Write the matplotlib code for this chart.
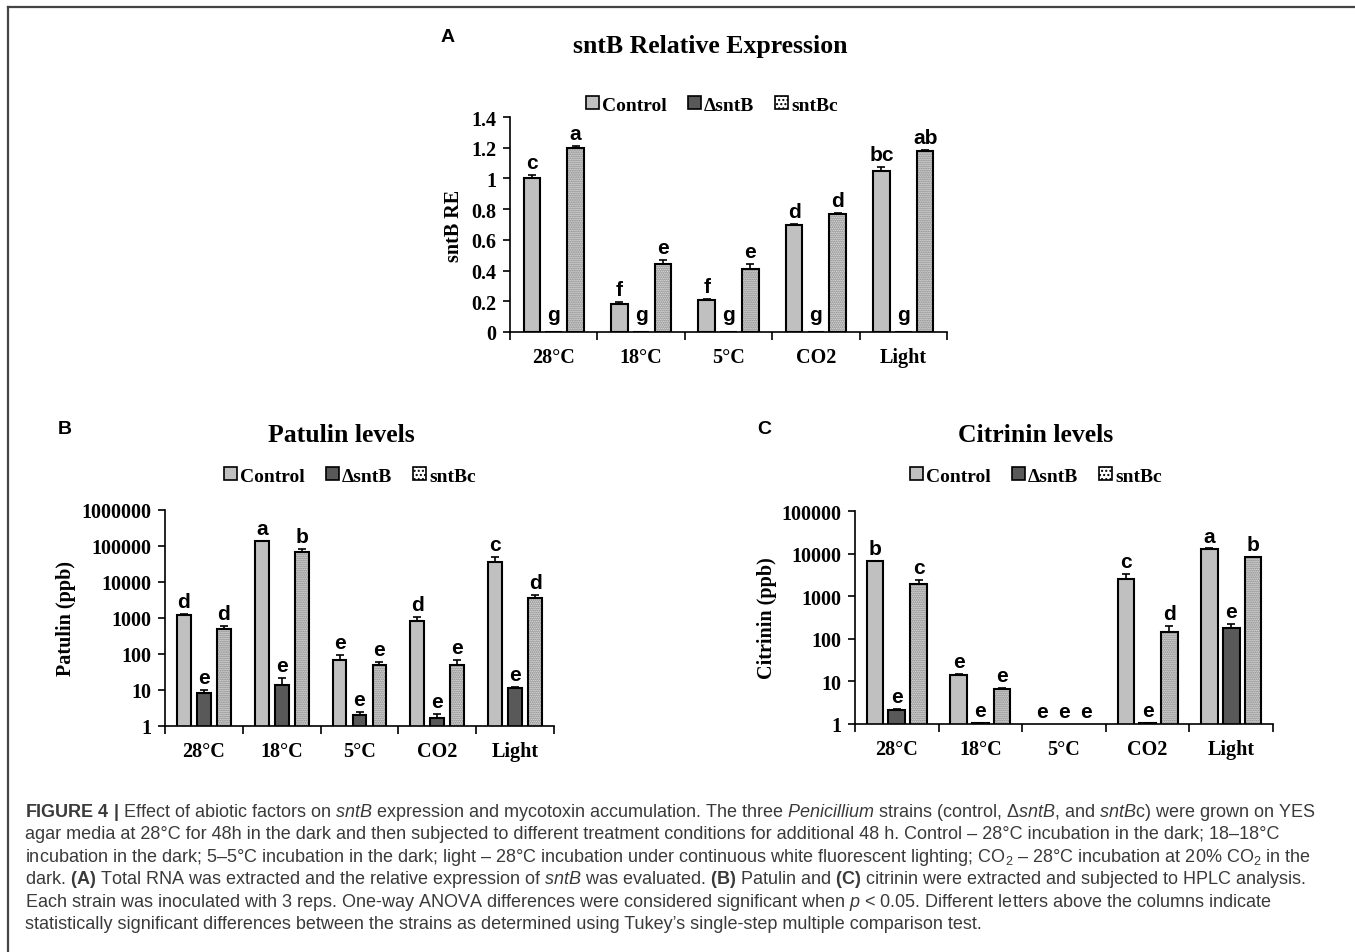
import numpy as np
import matplotlib
matplotlib.use("Agg")
import matplotlib.pyplot as plt
from matplotlib.patches import Patch
from matplotlib.lines import Line2D
from matplotlib.ticker import FuncFormatter, NullLocator

W, H = 1355, 953

conditions = ["28°C", "18°C", "5°C", "CO2", "Light"]
strains = ["Control", "ΔsntB", "sntBc"]

# (A) sntB relative expression
re_control = [1.00, 0.18, 0.21, 0.70, 1.05]
re_control_err = [0.02, 0.015, 0.005, 0.005, 0.025]
re_delta = [0.0, 0.0, 0.0, 0.0, 0.0]
re_delta_err = [0.0, 0.0, 0.0, 0.0, 0.0]
re_comp = [1.20, 0.44, 0.41, 0.77, 1.18]
re_comp_err = [0.01, 0.03, 0.03, 0.005, 0.005]
re_letters = [["c", "f", "f", "d", "bc"],
              ["g", "g", "g", "g", "g"],
              ["a", "e", "e", "d", "ab"]]

# (B) patulin, ppb
pat_control = [1250, 135000, 69, 810, 36500]
pat_control_err = [60, 4000, 26, 260, 12000]
pat_delta = [8.1, 14, 2.05, 1.7, 11.4]
pat_delta_err = [1.9, 8, 0.45, 0.4, 0.8]
pat_comp = [490, 69000, 50, 50, 3600]
pat_comp_err = [120, 14000, 9, 18, 850]
pat_letters = [["d", "a", "e", "d", "c"],
               ["e", "e", "e", "e", "e"],
               ["d", "b", "e", "e", "d"]]

# (C) citrinin, ppb (5°C not detected)
cit_control = [6650, 14, np.nan, 2500, 12600]
cit_control_err = [0, 0.6, 0, 900, 600]
cit_delta = [2.1, 1.05, np.nan, 1.05, 177]
cit_delta_err = [0.1, 0, 0, 0, 43]
cit_comp = [1980, 6.6, np.nan, 141, 8300]
cit_comp_err = [420, 0.4, 0, 59, 0]
cit_letters = [["b", "e", "e", "c", "a"],
               ["e", "e", "e", "e", "e"],
               ["c", "e", "e", "d", "b"]]

SERIF = "Liberation Serif"
SANS = "Liberation Sans"
plt.rcParams["hatch.linewidth"] = 1.0
plt.rcParams["mathtext.fontset"] = "custom"
plt.rcParams["mathtext.rm"] = SANS
plt.rcParams["mathtext.it"] = SANS + ":italic"
plt.rcParams["mathtext.bf"] = SANS + ":bold"


def fx(px):
  return px / W


def fy(py):
  return 1 - py / H


def draw_panel(ax, series, errs, letters, width, step, floor):
  x = np.arange(len(conditions))
  fills = ["#c0c0c0", "#595959", None]
  for k in range(3):
    vals = np.array(series[k], dtype=float)
    err = np.array(errs[k], dtype=float)
    xs = x + (k - 1) * step
    if fills[k] is not None:
      ax.bar(xs, vals, width, facecolor=fills[k], edgecolor="black", linewidth=1.5, zorder=2)
    else:
      ax.bar(xs, vals, width, facecolor="#f2f2f2", edgecolor="#6a6a6a", hatch="........", linewidth=0, zorder=2)
      ax.bar(xs, vals, width, fill=False, edgecolor="black", linewidth=1.5, zorder=3)
    show = err > 0
    ax.errorbar(xs[show], vals[show], yerr=[np.zeros(show.sum()), err[show]], fmt="none",
                ecolor="black", elinewidth=1.2, capsize=3, capthick=1.2, zorder=4)
    for i in range(len(conditions)):
      top = vals[i] + err[i] if not np.isnan(vals[i]) else floor
      top = max(top, floor)
      ax.annotate(letters[k][i], xy=(xs[i], top), xytext=(0, 5), textcoords="offset points",
                  ha="center", va="baseline", fontsize=15, fontweight="bold", family=SANS)

  ax.set_xlim(-0.5, len(conditions) - 0.5)
  ax.set_xticks(x)
  ax.set_xticklabels(conditions, fontsize=14.5, fontweight="bold", family=SERIF)
  ax.set_xticks(np.arange(-0.5, len(conditions)), minor=True)
  ax.tick_params(axis="x", which="major", length=0, pad=11)
  ax.tick_params(axis="x", which="minor", length=6, width=1.2, direction="out")
  ax.tick_params(axis="y", length=5, width=1.2, direction="out", pad=5)
  for lab in ax.get_yticklabels():
    lab.set_fontsize(14.5)
    lab.set_fontweight("bold")
    lab.set_family(SERIF)
  for side in ["top", "right"]:
    ax.spines[side].set_visible(False)
  for side in ["left", "bottom"]:
    ax.spines[side].set_linewidth(1.2)


def legend_at(fig, cx, cy):
  handles = [Patch(facecolor="#c0c0c0", edgecolor="black", linewidth=1.2),
             Patch(facecolor="#595959", edgecolor="black", linewidth=1.2),
             Patch(facecolor="white", edgecolor="black", hatch="....", linewidth=1.2)]
  fig.legend(handles, strains, loc="center", bbox_to_anchor=(fx(cx), fy(cy)), ncol=3, frameon=False,
             handlelength=0.65, handleheight=0.65, handletextpad=0.15, columnspacing=1.1,
             prop={"family": SERIF, "weight": "bold", "size": 14})


fig = plt.figure(figsize=(W / 100, H / 100), dpi=100)

# outer frame (top and left edges)
fig.add_artist(Line2D([fx(8), 1.0], [fy(8), fy(8)], color="#444444", linewidth=1.6))
fig.add_artist(Line2D([fx(8), fx(8)], [fy(8), 0.0], color="#444444", linewidth=1.6))

# Panel A
axA = fig.add_axes([fx(510), fy(333), fx(947) - fx(510), fy(118) - fy(333)])
axA.set_ylim(0, 1.4)
axA.set_yticks(np.arange(0, 1.41, 0.2))
axA.yaxis.set_major_formatter(FuncFormatter(lambda v, p: f"{v:g}"))
draw_panel(axA, [re_control, re_delta, re_comp], [re_control_err, re_delta_err, re_comp_err],
           re_letters, 0.19, 0.25, 0.03)
axA.set_ylabel("sntB RE", fontsize=14.5, fontweight="bold", family=SERIF, labelpad=5)
fig.text(fx(710), fy(46), "sntB Relative Expression", ha="center", va="center",
         fontsize=18.5, fontweight="bold", family=SERIF)
fig.text(fx(448), fy(38), "A", ha="center", va="center", fontsize=14, fontweight="bold", family=SANS)
legend_at(fig, 712, 106)

# Panel B
axB = fig.add_axes([fx(165), fy(727), fx(554) - fx(165), fy(511) - fy(727)])
axB.set_yscale("log")
axB.set_ylim(1, 1e6)
axB.set_yticks([10 ** k for k in range(7)])
axB.yaxis.set_minor_locator(NullLocator())
axB.yaxis.set_major_formatter(FuncFormatter(lambda v, p: f"{v:.0f}"))
draw_panel(axB, [pat_control, pat_delta, pat_comp], [pat_control_err, pat_delta_err, pat_comp_err],
           pat_letters, 0.175, 0.257, 1.0)
axB.set_ylabel("Patulin (ppb)", fontsize=14.5, fontweight="bold", family=SERIF, labelpad=4)
fig.text(fx(341), fy(435), "Patulin levels", ha="center", va="center",
         fontsize=18.5, fontweight="bold", family=SERIF)
fig.text(fx(65), fy(430), "B", ha="center", va="center", fontsize=14, fontweight="bold", family=SANS)
legend_at(fig, 350, 477)

# Panel C
axC = fig.add_axes([fx(855), fy(725), fx(1273) - fx(855), fy(512) - fy(725)])
axC.set_yscale("log")
axC.set_ylim(1, 1e5)
axC.set_yticks([10 ** k for k in range(6)])
axC.yaxis.set_minor_locator(NullLocator())
axC.yaxis.set_major_formatter(FuncFormatter(lambda v, p: f"{v:.0f}"))
draw_panel(axC, [cit_control, cit_delta, cit_comp], [cit_control_err, cit_delta_err, cit_comp_err],
           cit_letters, 0.2, 0.26, 1.0)
axC.set_ylabel("Citrinin (ppb)", fontsize=14.5, fontweight="bold", family=SERIF, labelpad=3)
fig.text(fx(1036), fy(436), "Citrinin levels", ha="center", va="center",
         fontsize=18.5, fontweight="bold", family=SERIF)
fig.text(fx(764), fy(429), "C", ha="center", va="center", fontsize=14, fontweight="bold", family=SANS)
legend_at(fig, 1036, 477)

# caption
caption_lines = [
  r"$\mathbf{FIGURE\ 4\ |}$ Effect of abiotic factors on $\mathit{sntB}$ expression and mycotoxin accumulation. "
  r"The three $\mathit{Penicillium}$ strains (control, Δ$\mathit{sntB}$, and $\mathit{sntB}$c) were grown on YES",
  "agar media at 28°C for 48h in the dark and then subjected to different treatment conditions for additional 48 h. "
  "Control – 28°C incubation in the dark; 18–18°C",
  r"incubation in the dark; 5–5°C incubation in the dark; light – 28°C incubation under continuous white "
  r"fluorescent lighting; CO$_2$ – 28°C incubation at 20% CO$_2$ in the",
  r"dark. $\mathbf{(A)}$ Total RNA was extracted and the relative expression of $\mathit{sntB}$ was evaluated. "
  r"$\mathbf{(B)}$ Patulin and $\mathbf{(C)}$ citrinin were extracted and subjected to HPLC analysis.",
  r"Each strain was inoculated with 3 reps. One-way ANOVA differences were considered significant when "
  r"$\mathit{p}$ < 0.05. Different letters above the columns indicate",
  "statistically significant differences between the strains as determined using Tukey’s single-step "
  "multiple comparison test.",
]
for i, line in enumerate(caption_lines):
  fig.text(fx(25), fy(817 + i * 22.4), line, ha="left", va="baseline", fontsize=13,
           family=SANS, color="#3a3a3a")

fig.savefig("out.png", dpi=100)
plt.close(fig)
